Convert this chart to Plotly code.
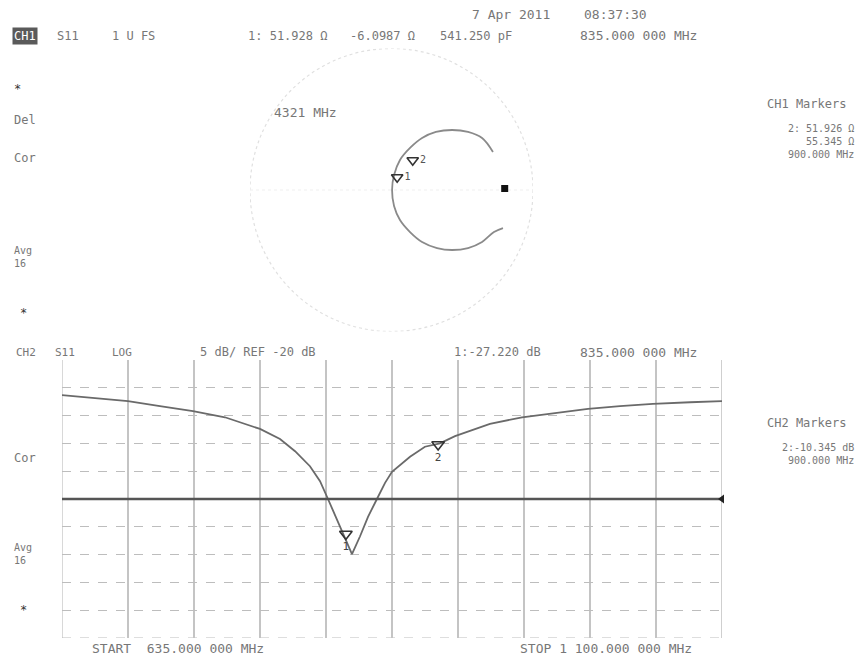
import plotly.graph_objects as go

# ---------------- data ----------------
start_mhz = 635.0
stop_mhz = 1100.0
ref_db = -20.0
db_per_div = 5.0

freq_mhz = [635.0, 658.2, 681.5, 704.0, 727.3, 749.8, 774.5, 788.6, 799.2, 809.7,
            816.8, 822.4, 827.3, 833.0, 839.3, 845.0, 850.6, 856.9, 862.6, 867.5,
            880.2, 890.7, 901.3, 911.9, 936.5, 959.1, 982.3, 1005.6, 1028.1, 1051.3,
            1077.5, 1100.0]
s11_db = [-1.3, -1.8, -2.4, -3.3, -4.2, -5.3, -7.4, -9.2, -11.4, -14.1,
          -16.8, -20.0, -22.9, -26.1, -29.9, -26.7, -23.2, -20.0, -17.1, -15.1,
          -12.4, -10.6, -10.0, -8.7, -6.5, -5.3, -4.5, -3.8, -3.3, -2.9,
          -2.6, -2.4]

marker_freq = [835.0, 900.0]
marker_db = [-26.3, -10.2]
marker_names = ["1", "2"]

# Smith chart trace (reflection coefficient, real / imag)
gamma_re = [0.717, 0.640, 0.541, 0.428, 0.314, 0.216, 0.131, 0.060, 0.018, 0.004,
            0.018, 0.060, 0.131, 0.216, 0.322, 0.428, 0.541, 0.640, 0.724, 0.788]
gamma_im = [0.269, 0.367, 0.410, 0.424, 0.410, 0.367, 0.297, 0.212, 0.106, 0.000,
            -0.113, -0.212, -0.297, -0.367, -0.410, -0.424, -0.410, -0.367, -0.297, -0.269]
smith_marker_re = [0.04, 0.15]
smith_marker_im = [0.09, 0.21]
smith_active_re = [0.80]
smith_active_im = [0.01]

W, H = 858, 658
TXT = "#777777"
FONT = "DejaVu Sans Mono"

def px(x):
    return x / W

def py(y):
    return 1 - y / H

fig = go.Figure()

# bottom log-magnitude trace
fig.add_trace(go.Scatter(x=freq_mhz, y=s11_db, mode="lines",
                         line=dict(color="#6a6a6a", width=1.8),
                         xaxis="x", yaxis="y", showlegend=False, hoverinfo="skip"))
# reference line
fig.add_trace(go.Scatter(x=[start_mhz, stop_mhz], y=[ref_db, ref_db], mode="lines",
                         line=dict(color="#555555", width=2.4),
                         xaxis="x", yaxis="y", showlegend=False, hoverinfo="skip"))
fig.add_trace(go.Scatter(x=[stop_mhz], y=[ref_db], mode="markers",
                         marker=dict(symbol="triangle-left", size=8, color="#222"),
                         xaxis="x", yaxis="y", showlegend=False, hoverinfo="skip", cliponaxis=False))
# markers on the trace
fig.add_trace(go.Scatter(x=marker_freq, y=marker_db, mode="markers+text",
                         marker=dict(symbol="triangle-down-open", size=11,
                                     color="#333", line=dict(width=1.6)),
                         text=marker_names, textposition="bottom center",
                         textfont=dict(family=FONT, size=11, color="#444"),
                         xaxis="x", yaxis="y", showlegend=False, hoverinfo="skip"))

# Smith chart trace
fig.add_trace(go.Scatter(x=gamma_re, y=gamma_im, mode="lines",
                         line=dict(color="#8a8a8a", width=1.8, shape="spline"),
                         xaxis="x2", yaxis="y2", showlegend=False, hoverinfo="skip"))
fig.add_trace(go.Scatter(x=smith_marker_re, y=smith_marker_im, mode="markers+text",
                         marker=dict(symbol="triangle-down-open", size=10, color="#333",
                                     line=dict(width=1.6)),
                         text=marker_names, textposition="middle right",
                         textfont=dict(family=FONT, size=10, color="#555"),
                         xaxis="x2", yaxis="y2", showlegend=False, hoverinfo="skip"))
fig.add_trace(go.Scatter(x=smith_active_re, y=smith_active_im, mode="markers",
                         marker=dict(symbol="square", size=7, color="#111"),
                         xaxis="x2", yaxis="y2", showlegend=False, hoverinfo="skip"))

shapes = [
    # faint Smith chart outline
    dict(type="circle", xref="x2", yref="y2", x0=-1, x1=1, y0=-1, y1=1,
         line=dict(color="#e0e0e0", width=1.2, dash="dot"), layer="below"),
    dict(type="line", xref="x2", yref="y2", x0=-1, x1=1, y0=0, y1=0,
         line=dict(color="#efefef", width=1, dash="dot"), layer="below"),
    # graticule edges of the log-magnitude grid
    dict(type="line", xref="x", yref="y domain", x0=start_mhz, x1=start_mhz, y0=0, y1=1,
         line=dict(color="#cfcfcf", width=1.6), layer="below"),
    dict(type="line", xref="x", yref="y domain", x0=stop_mhz, x1=stop_mhz, y0=0, y1=1,
         line=dict(color="#c4c4c4", width=1.6), layer="below"),
    dict(type="line", xref="x domain", yref="y", x0=0, x1=1,
         y0=ref_db - 5 * db_per_div, y1=ref_db - 5 * db_per_div,
         line=dict(color="#bdbdbd", width=1.2, dash="dash"), layer="below"),
]

annotations = []

def txt(x, y, s, size=13, color=TXT, anchor="left", yanchor="middle"):
    annotations.append(dict(x=px(x), y=py(y), xref="paper", yref="paper", text=s,
                            showarrow=False, xanchor=anchor, yanchor=yanchor,
                            align=anchor if anchor != "center" else "center",
                            font=dict(family=FONT, size=size, color=color)))

# header channel 1
annotations.append(dict(x=px(12), y=py(36), xref="paper", yref="paper", text="CH1",
                        showarrow=False, xanchor="left", yanchor="middle",
                        bgcolor="#5a5a5a", borderpad=1,
                        font=dict(family=FONT, size=12, color="#ffffff")))
txt(55, 36, "S11", size=12)
txt(110, 36, "1 U FS", size=12)
txt(246, 36, "1: 51.928 Ω", size=12)
txt(348, 36, "-6.0987 Ω", size=12)
txt(438, 36, "541.250 pF", size=12)
txt(578, 36, "835.000 000 MHz")
txt(470, 15, "7 Apr 2011")
txt(582, 15, "08:37:30")
txt(272, 112, "4321 MHz")

# left labels channel 1
txt(12, 89, "*", size=12, color="#333")
txt(12, 120, "Del", size=12)
txt(12, 158, "Cor", size=12)
txt(12, 243, "Avg<br>16", size=10, yanchor="top")
txt(18, 313, "*", size=12, color="#333")

# right labels channel 1
txt(765, 104, "CH1 Markers", size=12)
txt(856, 121, "2: 51.926 Ω<br>55.345 Ω<br>900.000 MHz", size=10, anchor="right", yanchor="top")

# header channel 2
txt(14, 352, "CH2", size=11)
txt(53, 352, "S11", size=11)
txt(110, 352, "LOG", size=11)
txt(198, 352, "5 dB/ REF -20 dB", size=12)
txt(452, 352, "1:-27.220 dB", size=12)
txt(578, 352, "835.000 000 MHz")

# left labels channel 2
txt(12, 458, "Cor", size=12)
txt(12, 540, "Avg<br>16", size=10, yanchor="top")
txt(18, 610, "*", size=12, color="#333")

# right labels channel 2
txt(765, 423, "CH2 Markers", size=12)
txt(856, 440, "2:-10.345 dB<br>900.000 MHz", size=10, anchor="right", yanchor="top")

# start / stop
txt(90, 648, "START  635.000 000 MHz")
txt(518, 648, "STOP 1 100.000 000 MHz")

span = stop_mhz - start_mhz
fig.update_layout(
    width=W, height=H,
    margin=dict(l=0, r=0, t=0, b=0),
    paper_bgcolor="white", plot_bgcolor="white",
    showlegend=False,
    xaxis=dict(domain=[px(62), px(722)], range=[start_mhz, stop_mhz],
               tick0=start_mhz, dtick=span / 10, showticklabels=False,
               showgrid=True, gridcolor="#c4c4c4", gridwidth=1.6,
               zeroline=False, showline=False, ticks=""),
    yaxis=dict(domain=[py(638), py(360)], range=[ref_db - 5 * db_per_div, ref_db + 5 * db_per_div],
               tick0=ref_db, dtick=db_per_div, showticklabels=False,
               showgrid=True, gridcolor="#bdbdbd", gridwidth=1.2, griddash="dash",
               zeroline=False, showline=False, ticks=""),
    xaxis2=dict(domain=[px(250), px(533)], range=[-1, 1], visible=False, anchor="y2"),
    yaxis2=dict(domain=[py(331.5), py(48.5)], range=[-1, 1], visible=False, anchor="x2"),
    shapes=shapes,
    annotations=annotations,
)

fig.write_html("out.html", config={"displayModeBar": False},
               post_script="document.body.style.margin='0';document.body.style.overflow='hidden';")
